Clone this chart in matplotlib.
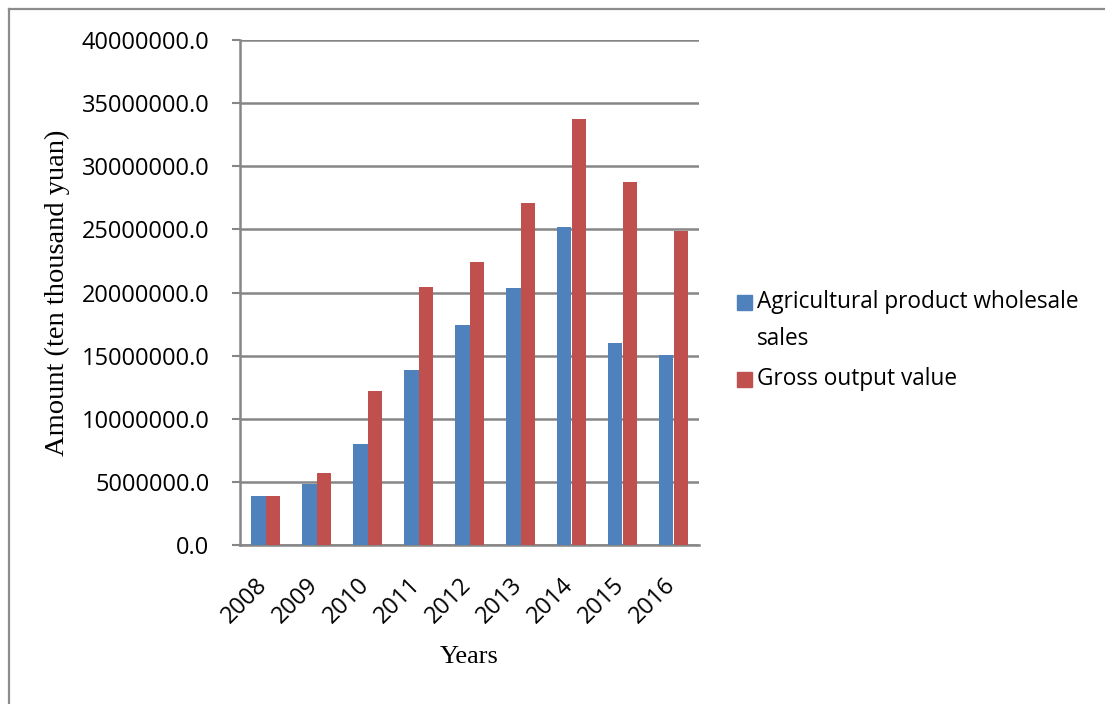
"""Wholesale sales vs gross output value, grouped bars by year."""

import numpy as np
import matplotlib.pyplot as plt
from matplotlib.lines import Line2D
from matplotlib.patches import Rectangle
from matplotlib.ticker import FormatStrFormatter, MultipleLocator
from matplotlib.transforms import ScaledTranslation

# Data (ten thousand yuan)
years = ["2008", "2009", "2010", "2011", "2012", "2013", "2014", "2015", "2016"]
wholesale_sales = [3900000, 4830000, 7970000, 13900000, 17450000,
                   20320000, 25200000, 15970000, 15050000]
gross_output = [3900000, 5720000, 12210000, 20400000, 22420000,
                27060000, 33740000, 28780000, 24900000]

series_names = ["Agricultural product wholesale\nsales", "Gross output value"]

BLUE = "#4F81BD"
RED = "#C0504D"
GRID = "#868686"
SANS = ["Open Sans", "DejaVu Sans"]
SERIF = ["Liberation Serif", "DejaVu Serif"]
FS = 17
LEG_FS = 16.3

W, H = 1105, 704
fig = plt.figure(figsize=(W / 100, H / 100), dpi=100)
ax = fig.add_axes([240 / W, 1 - 545 / H, 459 / W, 505 / H])

x = np.arange(len(years))
bw = 0.285
ax.bar(x - bw / 2, wholesale_sales, width=bw, color=BLUE, zorder=3)
ax.bar(x + bw / 2, gross_output, width=bw, color=RED, zorder=3)

ax.set_xlim(-0.5, len(years) - 0.5)
ax.set_ylim(0, 40000000)
ax.yaxis.set_major_locator(MultipleLocator(5000000))
ax.yaxis.set_major_formatter(FormatStrFormatter("%.1f"))
ax.grid(axis="y", color=GRID, linewidth=1.8, zorder=0)

for side in ("top", "right"):
    ax.spines[side].set_visible(False)
for side in ("left", "bottom"):
    ax.spines[side].set_color(GRID)
    ax.spines[side].set_linewidth(1.8)

ax.tick_params(axis="y", length=6, width=1.5, color=GRID, pad=16,
               labelsize=FS)
ax.tick_params(axis="x", length=0, pad=20, labelsize=FS)
for lbl in ax.get_yticklabels():
    lbl.set_family(SANS)

ax.set_xticks(x)
ax.set_xticklabels(years, rotation=45, ha="right", family=SANS)
shift = ScaledTranslation(5 / 72, 0, fig.dpi_scale_trans)
for lbl in ax.get_xticklabels():
    lbl.set_transform(lbl.get_transform() + shift)

ax.set_ylabel("Amount (ten thousand yuan)", family=SERIF, fontsize=20.5)
ax.yaxis.set_label_coords(-0.37, 0.5)
ax.set_xlabel("Years", family=SERIF, fontsize=19)
ax.xaxis.set_label_coords(0.5, -0.2)

# legend drawn by hand so the swatch sits on the first text line
def legend_entry(px, py, color, text):
    fig.add_artist(Rectangle((px / W, 1 - (py + 8) / H), 15 / W, 15 / H,
                             color=color, transform=fig.transFigure))
    fig.text((px + 20) / W, 1 - py / H, text, family=SANS, fontsize=LEG_FS,
             va="center", ha="left")

legend_entry(737, 302, BLUE, series_names[0].split("\n")[0])
fig.text(757 / W, 1 - 339 / H, series_names[0].split("\n")[1],
         family=SANS, fontsize=LEG_FS, va="center", ha="left")
legend_entry(737, 379, RED, series_names[1])

# thin frame along the top and left edges
fig.add_artist(Line2D([9 / W, 1], [1 - 9 / H, 1 - 9 / H], color="#8c8c8c",
                      linewidth=1.6, transform=fig.transFigure))
fig.add_artist(Line2D([9 / W, 9 / W], [0, 1 - 9 / H], color="#8c8c8c",
                      linewidth=1.6, transform=fig.transFigure))

fig.savefig("out.png", dpi=100)
